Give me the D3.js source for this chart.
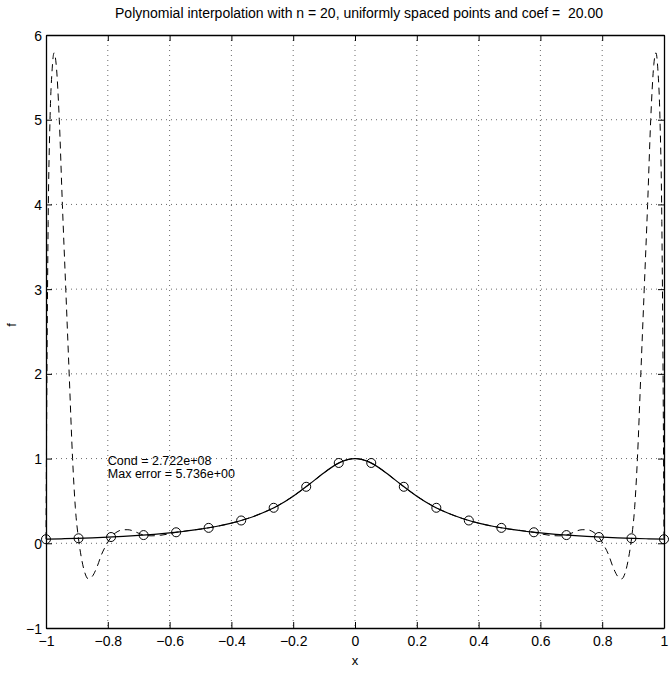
<!DOCTYPE html>
<html>
<head>
<meta charset="utf-8">
<script src="https://cdn.jsdelivr.net/npm/d3@7"></script>
<style>
  body { margin: 0; background: #fff; }
  text { font-family: "Liberation Sans", Arial, Helvetica, sans-serif; fill: #000; }
</style>
</head>
<body>
<div id="chart"></div>
<script>
// interpolation nodes (20 uniformly spaced points) and f at the nodes
var nodeX = [-1.0000, -0.8947, -0.7895, -0.6842, -0.5789, -0.4737, -0.3684, -0.2632, -0.1579, -0.0526,
             0.0526, 0.1579, 0.2632, 0.3684, 0.4737, 0.5789, 0.6842, 0.7895, 0.8947, 1.0000];
var nodeY = [0.048, 0.059, 0.074, 0.097, 0.130, 0.182, 0.269, 0.419, 0.667, 0.948,
             0.948, 0.667, 0.419, 0.269, 0.182, 0.130, 0.097, 0.074, 0.059, 0.048];

// the function itself (solid line)
var fX = [-1, -0.95, -0.9, -0.85, -0.8, -0.75, -0.7, -0.65, -0.6, -0.55, -0.5, -0.45, -0.4, -0.35, -0.3, -0.25, -0.2, -0.15, -0.1, -0.05,
          0, 0.05, 0.1, 0.15, 0.2, 0.25, 0.3, 0.35, 0.4, 0.45, 0.5, 0.55, 0.6, 0.65, 0.7, 0.75, 0.8, 0.85, 0.9, 0.95, 1];
var fY = [0.048, 0.053, 0.058, 0.065, 0.073, 0.082, 0.093, 0.106, 0.122, 0.142, 0.167, 0.198, 0.238, 0.290, 0.357, 0.444, 0.556, 0.690, 0.833, 0.952,
          1.000, 0.952, 0.833, 0.690, 0.556, 0.444, 0.357, 0.290, 0.238, 0.198, 0.167, 0.142, 0.122, 0.106, 0.093, 0.082, 0.073, 0.065, 0.058, 0.053, 0.048];

// interpolating polynomial (dashed line)
var pX = [-1.000, -0.997, -0.993, -0.987, -0.980, -0.974, -0.967, -0.957, -0.947, -0.936, -0.925, -0.914, -0.905, -0.895,
          -0.885, -0.875, -0.863, -0.850, -0.835, -0.820, -0.805, -0.789, -0.770, -0.750, -0.735, -0.715, -0.700, -0.684,
          -0.660, -0.630, -0.600, -0.579, -0.550, -0.500, -0.474, -0.45, -0.40, -0.35, -0.30, -0.25, -0.20, -0.15, -0.10, -0.05,
          0,
          0.05, 0.10, 0.15, 0.20, 0.25, 0.30, 0.35, 0.40, 0.45, 0.474, 0.500, 0.550, 0.579, 0.600, 0.630, 0.660,
          0.684, 0.700, 0.715, 0.735, 0.750, 0.770, 0.789, 0.805, 0.820, 0.835, 0.850, 0.863, 0.875, 0.885,
          0.895, 0.905, 0.914, 0.925, 0.936, 0.947, 0.957, 0.967, 0.974, 0.980, 0.987, 0.993, 0.997, 1.000];
var pY = [0.048, 2.0, 3.8, 5.0, 5.6, 5.79, 5.65, 5.0, 4.0, 3.0, 2.0, 1.0, 0.42, 0.059,
          -0.18, -0.34, -0.42, -0.39, -0.28, -0.13, -0.02, 0.074, 0.135, 0.160, 0.160, 0.142, 0.118, 0.097,
          0.088, 0.094, 0.113, 0.130, 0.145, 0.168, 0.182, 0.198, 0.238, 0.290, 0.357, 0.444, 0.556, 0.690, 0.833, 0.952,
          1.000,
          0.952, 0.833, 0.690, 0.556, 0.444, 0.357, 0.290, 0.238, 0.198, 0.182, 0.168, 0.145, 0.130, 0.113, 0.094, 0.088,
          0.097, 0.118, 0.142, 0.160, 0.160, 0.135, 0.074, -0.02, -0.13, -0.28, -0.39, -0.42, -0.34, -0.18,
          0.059, 0.42, 1.0, 2.0, 3.0, 4.0, 5.0, 5.65, 5.79, 5.6, 5.0, 3.8, 2.0, 0.048];

var xTicks = [-1, -0.8, -0.6, -0.4, -0.2, 0, 0.2, 0.4, 0.6, 0.8, 1];
var yTicks = [-1, 0, 1, 2, 3, 4, 5, 6];
var titleText = "Polynomial interpolation with n = 20, uniformly spaced points and coef =  20.00";
var notes = ["Cond = 2.722e+08", "Max error = 5.736e+00"];
var notePos = [[-0.8, 0.98], [-0.8, 0.82]];

var W = 671, H = 677;
var margin = {top: 35, right: 7, bottom: 49, left: 46};
var w = W - margin.left - margin.right, h = H - margin.top - margin.bottom;

var svg = d3.select("#chart").append("svg")
	.attr("width", W)
	.attr("height", H);

var g = svg.append("g")
	.attr("transform", "translate(" + margin.left + "," + margin.top + ")");

var x = d3.scaleLinear().domain([-1, 1]).range([0, w]);
var y = d3.scaleLinear().domain([-1, 6]).range([h, 0]);

function fmt(d){
	return String(d).replace("-", "\u2212");
}

//grid
g.selectAll(".gx").data(xTicks.slice(1, -1)).enter().append("line")
	.attr("x1", function(d){ return x(d); })
	.attr("x2", function(d){ return x(d); })
	.attr("y1", 0).attr("y2", h)
	.attr("stroke", "#444").attr("stroke-width", 0.8)
	.attr("stroke-dasharray", "1,4");

g.selectAll(".gy").data(yTicks.slice(1, -1)).enter().append("line")
	.attr("y1", function(d){ return y(d); })
	.attr("y2", function(d){ return y(d); })
	.attr("x1", 0).attr("x2", w)
	.attr("stroke", "#444").attr("stroke-width", 0.8)
	.attr("stroke-dasharray", "1,4");

//axes, ticks pointing inward
var axBottom = g.append("g").attr("transform", "translate(0," + h + ")")
	.call(d3.axisBottom(x).tickValues(xTicks).tickSizeInner(-6).tickSizeOuter(0).tickPadding(8).tickFormat(fmt));
var axTop = g.append("g")
	.call(d3.axisTop(x).tickValues(xTicks).tickSizeInner(-6).tickSizeOuter(0).tickFormat(""));
var axLeft = g.append("g")
	.call(d3.axisLeft(y).tickValues(yTicks).tickSizeInner(-6).tickSizeOuter(0).tickPadding(4).tickFormat(fmt));
var axRight = g.append("g").attr("transform", "translate(" + w + ",0)")
	.call(d3.axisRight(y).tickValues(yTicks).tickSizeInner(-6).tickSizeOuter(0).tickFormat(""));

[axBottom, axTop, axLeft, axRight].forEach(function(a){
	a.selectAll("path").attr("stroke", "#000").attr("stroke-width", 1.3);
	a.selectAll("line").attr("stroke", "#000");
	a.selectAll("text").style("font-family", "Liberation Sans, Arial, sans-serif").style("font-size", "14px").attr("fill", "#000");
});
axLeft.selectAll("text").attr("dy", "0.36em");
axBottom.selectAll("text").attr("dy", "0.72em");

//solid curve: the function
var line = d3.line()
	.x(function(d){ return x(d[0]); })
	.y(function(d){ return y(d[1]); });

g.append("path")
	.datum(d3.zip(fX, fY))
	.attr("fill", "none").attr("stroke", "#000").attr("stroke-width", 1.2)
	.attr("d", line.curve(d3.curveNatural));

//dashed curve: the polynomial
g.append("path")
	.datum(d3.zip(pX, pY))
	.attr("fill", "none").attr("stroke", "#000").attr("stroke-width", 1)
	.attr("stroke-dasharray", "7,5")
	.attr("d", line.curve(d3.curveMonotoneX));

//nodes
g.selectAll(".node").data(d3.zip(nodeX, nodeY)).enter().append("circle")
	.attr("cx", function(d){ return x(d[0]); })
	.attr("cy", function(d){ return y(d[1]); })
	.attr("r", 4.5)
	.attr("fill", "none").attr("stroke", "#000").attr("stroke-width", 1);

//annotations
g.selectAll(".note").data(notes).enter().append("text")
	.attr("x", function(d, i){ return x(notePos[i][0]); })
	.attr("y", function(d, i){ return y(notePos[i][1]); })
	.attr("dy", "0.36em")
	.style("font-size", "12.5px")
	.text(function(d){ return d; });

//labels
svg.append("text")
	.attr("x", margin.left + w / 2 + 4)
	.attr("y", 18)
	.attr("text-anchor", "middle")
	.style("font-size", "14px")
	.style("white-space", "pre")
	.text(titleText);

svg.append("text")
	.attr("x", margin.left + w / 2)
	.attr("y", 665)
	.attr("text-anchor", "middle")
	.style("font-size", "13px")
	.text("x");

svg.append("text")
	.attr("transform", "translate(16,325) rotate(-90)")
	.attr("text-anchor", "middle")
	.style("font-size", "13px")
	.text("f");
</script>
</body>
</html>
